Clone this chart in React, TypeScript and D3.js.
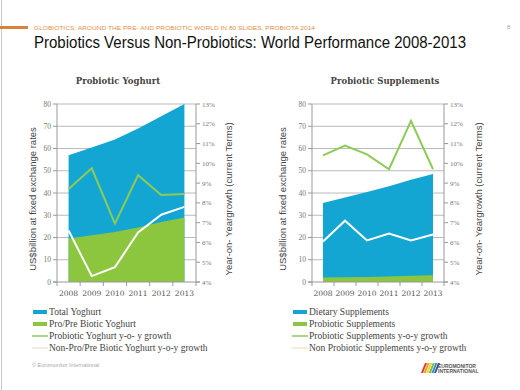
import React, { useEffect, useRef } from "react";
import * as d3 from "d3";

const years = ["2008", "2009", "2010", "2011", "2012", "2013"];

// Probiotic Yoghurt (US$ bn) and growth (%)
const totalYoghurt = [57, 60.5, 64, 69, 74.5, 80];
const proYoghurt = [19.5, 21, 22.5, 24.5, 27, 29];
const proYoghurtGrowth = [8.7, 9.75, 6.95, 9.4, 8.4, 8.45];
const nonProYoghurtGrowth = [6.6, 4.3, 4.75, 6.5, 7.4, 7.8];

// Probiotic Supplements (US$ bn) and growth (%)
const dietarySupplements = [35.5, 38, 40.5, 43, 46, 48.5];
const proSupplements = [2, 2.1, 2.3, 2.5, 2.8, 3];
const proSupplementsGrowth = [10.4, 10.9, 10.45, 9.7, 12.15, 9.7];
const nonProSupplementsGrowth = [6.05, 7.1, 6.1, 6.45, 6.1, 6.4];

const leftTicks = [0, 10, 20, 30, 40, 50, 60, 70, 80];
const rightTicks = [4, 5, 6, 7, 8, 9, 10, 11, 12, 13];

const legendLeft = [
  "Total Yoghurt",
  "Pro/Pre Biotic Yoghurt",
  "Probiotic Yoghurt y-o- y growth",
  "Non-Pro/Pre Biotic Yoghurt y-o-y growth",
];
const legendRight = [
  "Dietary Supplements",
  "Probiotic Supplements",
  "Probiotic Supplements  y-o-y growth",
  "Non Probiotic Supplements  y-o-y growth",
];

const BLUE = "#13a6d3";
const GREEN = "#8cc63f";
const GREEN_LINE = "#8ccb55";
const WHITE_LINE = "#ffffff";
const SERIF = "'DejaVu Serif', Georgia, serif";
const LSERIF = "'Liberation Serif', Georgia, serif";
const SANS = "'Liberation Sans', Arial, sans-serif";

type Panel = {
  title: string;
  titleX: number;
  x0: number;
  x1: number;
  total: number[];
  part: number[];
  growth: number[];
  other: number[];
  leftLabelX: number;
  rightLabelX: number;
};

const App = () => {
  const ref = useRef<SVGSVGElement>(null);

  useEffect(() => {
    const width = 520;
    const height = 390;
    const yTop = 104;
    const yBot = 282;

    const svg = d3.select(ref.current);
    svg.selectAll("*").remove();
    svg.attr("width", width).attr("height", height);

    svg.append("rect").attr("width", width).attr("height", height).attr("fill", "#fff");
    svg.append("line").attr("x1", 1.5).attr("x2", 1.5).attr("y1", 0).attr("y2", height)
      .attr("stroke", "#c8c8c8").attr("stroke-width", 1);

    // header
    svg.append("rect").attr("x", 0).attr("y", 26).attr("width", 28).attr("height", 3).attr("fill", "#d9823b");
    svg.append("text").attr("x", 34).attr("y", 29.5)
      .attr("font-family", SANS).attr("font-size", 6).attr("fill", "#e0904a")
      .attr("textLength", 281).attr("lengthAdjust", "spacingAndGlyphs")
      .text("GLOBIOTICS: AROUND THE PRE- AND PROBIOTIC WORLD IN 80 SLIDES, PROBIOTA 2014");
    svg.append("text").attr("x", 34).attr("y", 48)
      .attr("font-family", SANS).attr("font-size", 16).attr("fill", "#111")
      .attr("textLength", 432).attr("lengthAdjust", "spacingAndGlyphs")
      .text("Probiotics Versus Non-Probiotics:  World Performance 2008-2013");
    svg.append("text").attr("x", 507).attr("y", 29)
      .attr("font-family", SANS).attr("font-size", 6).attr("fill", "#aaa").text("8");

    const panels: Panel[] = [
      {
        title: "Probiotic Yoghurt", titleX: 118, x0: 57, x1: 196,
        total: totalYoghurt, part: proYoghurt, growth: proYoghurtGrowth, other: nonProYoghurtGrowth,
        leftLabelX: 36, rightLabelX: 232,
      },
      {
        title: "Probiotic Supplements", titleX: 385, x0: 312, x1: 444,
        total: dietarySupplements, part: proSupplements, growth: proSupplementsGrowth, other: nonProSupplementsGrowth,
        leftLabelX: 286, rightLabelX: 482,
      },
    ];

    panels.forEach((p) => {
      const g = svg.append("g");
      const x = d3.scaleBand().domain(years).range([p.x0, p.x1]);
      const cx = (d: string) => (x(d) as number) + x.bandwidth() / 2;
      const y = d3.scaleLinear().domain([0, 80]).range([yBot, yTop]);
      const y2 = d3.scaleLinear().domain([4, 13]).range([yBot, yTop]);

      g.append("text").attr("x", p.titleX).attr("y", 84).attr("text-anchor", "middle")
        .attr("font-family", SERIF).attr("font-weight", "bold").attr("font-size", 8.5)
        .attr("fill", "#444").text(p.title);

      // gridlines
      g.selectAll(".grid").data(leftTicks.slice(1)).enter().append("line")
        .attr("x1", p.x0).attr("x2", p.x1).attr("y1", (d) => y(d)).attr("y2", (d) => y(d))
        .attr("stroke", "#a8a8a8").attr("stroke-width", 0.8);

      // areas
      const area = (vals: number[]) =>
        d3.area<string>().x((d) => cx(d)).y0(y(0)).y1((d, i) => y(vals[i]))(years);
      g.append("path").attr("d", area(p.total)).attr("fill", BLUE);
      g.append("path").attr("d", area(p.part)).attr("fill", GREEN);

      // lines
      const line = (vals: number[]) =>
        d3.line<string>().x((d) => cx(d)).y((d, i) => y2(vals[i]))(years);
      g.append("path").attr("d", line(p.growth)).attr("fill", "none")
        .attr("stroke", GREEN_LINE).attr("stroke-width", 2);
      g.append("path").attr("d", line(p.other)).attr("fill", "none")
        .attr("stroke", WHITE_LINE).attr("stroke-width", 2);

      // axes lines
      const axisCol = "#999";
      g.append("line").attr("x1", p.x0).attr("x2", p.x0).attr("y1", yTop).attr("y2", yBot)
        .attr("stroke", axisCol);
      g.append("line").attr("x1", p.x1).attr("x2", p.x1).attr("y1", yTop).attr("y2", yBot)
        .attr("stroke", axisCol);
      g.append("line").attr("x1", p.x0 - 4).attr("x2", p.x1 + 4).attr("y1", yBot).attr("y2", yBot)
        .attr("stroke", axisCol);

      g.selectAll(".lt").data(leftTicks).enter().append("line")
        .attr("x1", p.x0 - 4).attr("x2", p.x0).attr("y1", (d) => y(d)).attr("y2", (d) => y(d))
        .attr("stroke", axisCol);
      g.selectAll(".ltl").data(leftTicks).enter().append("text")
        .attr("x", p.x0 - 6).attr("y", (d) => y(d) + 2.5).attr("text-anchor", "end")
        .attr("font-family", LSERIF).attr("font-size", 7.5).attr("fill", "#777").text((d) => d);

      g.selectAll(".rt").data(rightTicks).enter().append("line")
        .attr("x1", p.x1).attr("x2", p.x1 + 4).attr("y1", (d) => y2(d)).attr("y2", (d) => y2(d))
        .attr("stroke", axisCol);
      g.selectAll(".rtl").data(rightTicks).enter().append("text")
        .attr("x", p.x1 + 6).attr("y", (d) => y2(d) + 2.5)
        .attr("font-family", LSERIF).attr("font-size", 7).attr("fill", "#777").text((d) => d + "%");

      const bounds = years.map((d) => x(d) as number).concat([p.x1]);
      g.selectAll(".bt").data(bounds).enter().append("line")
        .attr("x1", (d) => d).attr("x2", (d) => d).attr("y1", yBot).attr("y2", yBot + 4)
        .attr("stroke", axisCol);
      g.selectAll(".bl").data(years).enter().append("text")
        .attr("x", (d) => cx(d)).attr("y", yBot + 14).attr("text-anchor", "middle")
        .attr("font-family", SERIF).attr("font-size", 7.5).attr("fill", "#555").text((d) => d);

      // axis titles
      g.append("text").attr("transform", `translate(${p.leftLabelX},${(yTop + yBot) / 2 + 6}) rotate(-90)`)
        .attr("text-anchor", "middle").attr("font-family", SANS).attr("font-size", 9.5)
        .attr("fill", "#444").text("US$billion at fixed exchange rates");
      g.append("text").attr("transform", `translate(${p.rightLabelX},${(yTop + yBot) / 2 + 6}) rotate(-90)`)
        .attr("text-anchor", "middle").attr("font-family", SANS).attr("font-size", 9.5)
        .attr("fill", "#444").text("Year-on- Yeargrowth (current Terms)");
    });

    // legends
    const legends = [
      { labels: legendLeft, x: 33 },
      { labels: legendRight, x: 293 },
    ];
    const rowsY = [312, 324, 336, 348];
    const swatch = [BLUE, GREEN, GREEN_LINE, "#f5e4d4"];
    legends.forEach((lg) => {
      lg.labels.forEach((lab, i) => {
        if (i < 2) {
          svg.append("rect").attr("x", lg.x).attr("y", rowsY[i] - 2).attr("width", 14).attr("height", 4)
            .attr("fill", swatch[i]);
        } else {
          svg.append("line").attr("x1", lg.x - 1).attr("x2", lg.x + 15).attr("y1", rowsY[i]).attr("y2", rowsY[i])
            .attr("stroke", swatch[i]).attr("stroke-width", 1.5);
        }
        svg.append("text").attr("x", lg.x + 16).attr("y", rowsY[i] + 3)
          .attr("font-family", LSERIF).attr("font-size", 9.5)
          .attr("fill", "#444").text(lab);
      });
    });

    // footer
    svg.append("text").attr("x", 32).attr("y", 367).attr("font-family", SANS).attr("font-size", 5.5)
      .attr("fill", "#aaa").text("© Euromonitor International");

    const logoCols = ["#e5352c", "#f29a1f", "#f6d21c", "#7cb944", "#2a8fcf", "#3b4fa0"];
    logoCols.forEach((c, i) => {
      svg.append("path")
        .attr("d", `M${421 + i * 2.6},373 L${425 + i * 2.6},363 L${427 + i * 2.6},363 L${423 + i * 2.6},373 Z`)
        .attr("fill", c);
    });
    svg.append("text").attr("x", 438).attr("y", 367.5).attr("font-family", SANS).attr("font-size", 5)
      .attr("font-weight", "bold").attr("fill", "#555").text("EUROMONITOR");
    svg.append("text").attr("x", 438).attr("y", 373).attr("font-family", SANS).attr("font-size", 5)
      .attr("font-weight", "bold").attr("fill", "#555").text("INTERNATIONAL");
  }, []);

  return <svg ref={ref} style={{ position: "absolute", left: 0, top: 0 }} />;
};

export default App;
